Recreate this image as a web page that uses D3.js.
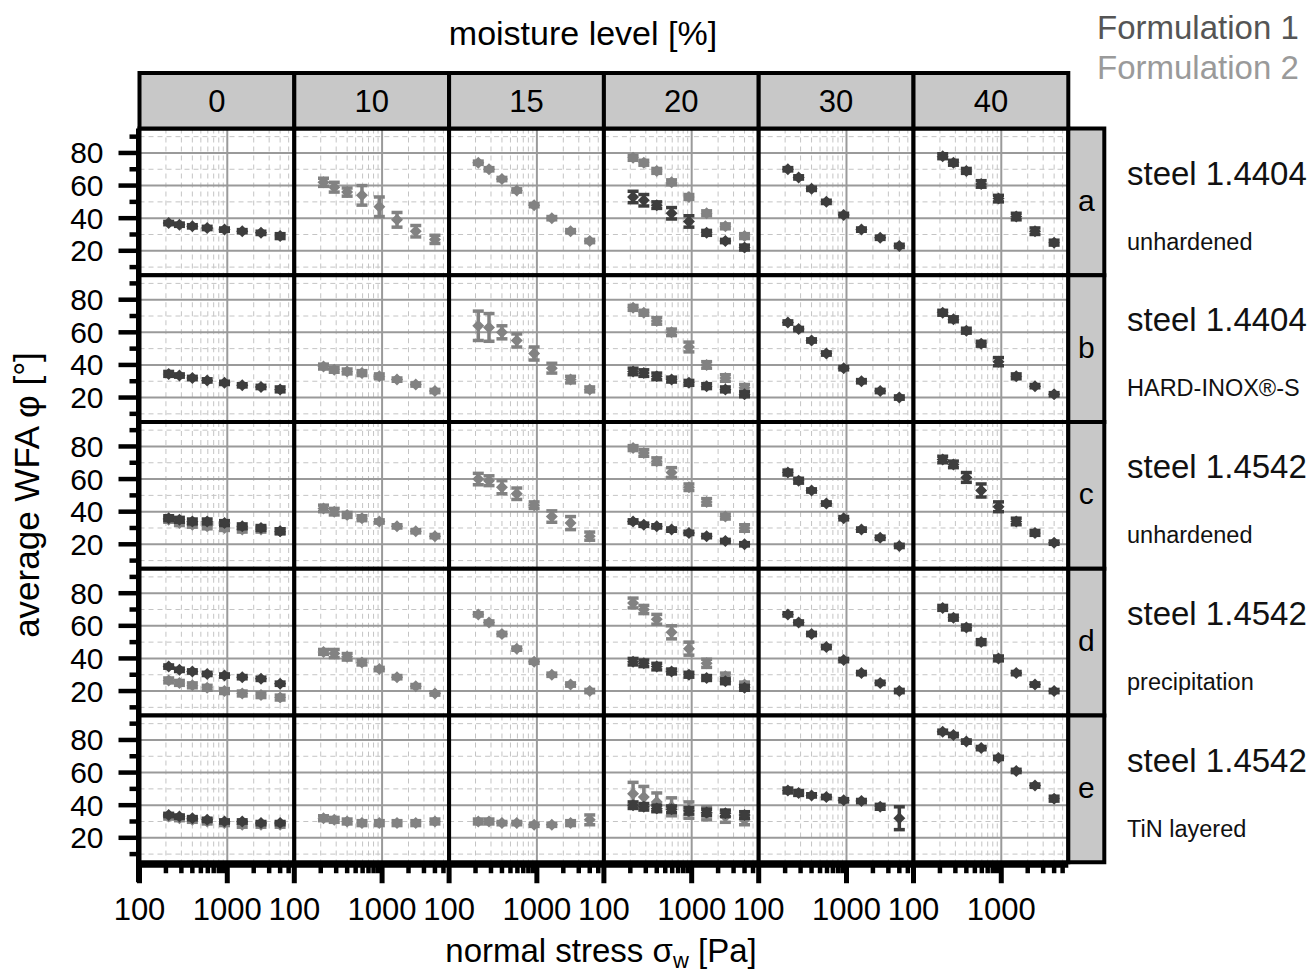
<!DOCTYPE html>
<html>
<head>
<meta charset="utf-8">
<script src="https://cdn.jsdelivr.net/npm/d3@7"></script>
<style>
  body { margin: 0; background: #fff; }
  text { font-family: "Liberation Sans", Arial, sans-serif; }
</style>
</head>
<body>
<svg id="chart" width="1315" height="977"></svg>
<script>
const moisture = ['0', '10', '15', '20', '30', '40'];
const surfaces = ['a', 'b', 'c', 'd', 'e'];
const steelNames = ['steel 1.4404', 'steel 1.4404', 'steel 1.4542', 'steel 1.4542', 'steel 1.4542'];
const treatments = ['unhardened', 'HARD-INOX®-S', 'unhardened', 'precipitation', 'TiN layered'];
const stress = [215, 285, 400, 590, 930, 1480, 2420, 4000];
const xTicks = [100, 1000];
const yTicks = [20, 40, 60, 80];
const series = ['Formulation 1', 'Formulation 2'];

// one entry per moisture level, null = not measured
const f1_a = [[37, 36, 35, 34, 33, 32, 31, 29], null, null, [53, 51, 48, 43, 38, 31, 26, 22], [70, 65, 58, 50, 42, 33, 28, 23], [78, 74, 69, 61, 52, 41, 32, 25]];
const e1_a = [[1, 1, 1, 1, 1, 1, 1, 1.5], null, null, [3.5, 3.5, 2, 3.5, 3.5, 1.5, 1, 1.5], [1, 1, 1, 1, 1, 1, 1, 1], [1.5, 1.5, 1.5, 2, 2, 2, 2, 1.5]];
const f2_a = [null, [62, 59, 56, 54, 47, 39, 32, 27], [74, 70, 64, 57, 48, 40, 32, 26], [77, 74, 69, 62, 53, 43, 35, 29], null, null];
const e2_a = [null, [2.5, 3, 2.5, 6, 6, 4.5, 3.5, 2.5], [1, 1, 1, 1, 1, 1, 1, 1], [1.5, 1.5, 1.5, 1.5, 1.5, 1.5, 1.5, 1.5], null, null];

const f1_b = [[34.5, 33.5, 32, 30.5, 29, 27.5, 26.5, 25], null, null, [36, 35, 33, 31, 29, 27, 25, 22], [66, 62, 55, 47, 38, 30, 24, 20], [72, 68, 61, 53, 42, 33, 27, 22]];
const e1_b = [[1.5, 1, 1, 1, 1, 1, 1, 1.5], null, null, [2, 2, 2, 1.5, 1.5, 1.5, 1.5, 1.5], [1, 1, 1, 1, 1, 1, 1, 1], [1.5, 1.5, 1.5, 1.5, 2.5, 1.5, 1, 1]];
const f2_b = [null, [39, 37, 36, 35, 33, 31, 28, 24], [64, 63, 60, 55, 47, 38, 31, 25], [75, 72, 67, 60, 51, 40, 32, 26], null, null];
const e2_b = [null, [1.5, 1.5, 1.5, 1.5, 1.5, 1, 1, 1], [9, 8.5, 4, 4, 4, 3, 2, 1.5], [1.5, 1.5, 2, 2, 3, 2, 2, 2], null, null];

const f1_c = [[36, 35, 34, 34, 33, 31, 30, 28], null, null, [34, 32, 31, 29, 27, 25, 22, 20], [64, 59, 53, 45, 36, 29, 24, 19], [72, 69, 61, 53, 43, 34, 27, 21]];
const e1_c = [[1.5, 1.5, 1.5, 1.5, 1.5, 1.5, 1.5, 1.5], null, null, [1, 1, 1, 1, 1, 1, 1, 1], [1.5, 1.5, 1, 1, 1, 1, 1, 1], [2, 2, 3, 4, 3, 2, 1.5, 1]];
const f2_c = [[35, 33, 32, 31, 30, 29, 29, 28], [42, 40, 38, 36, 34, 31, 28, 25], [60, 59, 55, 51, 44, 37, 33, 25], [79, 76, 71, 64, 55, 46, 37, 30], null, null];
const e2_c = [[1.5, 1.5, 1.5, 1.5, 1.5, 1.5, 1.5, 1.5], [2, 2, 1.5, 1.5, 1, 1, 1, 1], [3.5, 3, 4, 3.5, 2, 3.5, 4, 2.5], [1.5, 2, 2, 3, 2, 2, 1.5, 2], null, null];

const f1_d = [[35, 33, 32, 30.5, 29.5, 28.5, 27.5, 24.5], null, null, [38, 37, 35, 32, 30, 28, 26, 22], [67, 62, 55, 47, 39, 31, 25, 20], [71, 65, 59, 50, 40, 31, 24, 20]];
const e1_d = [[1, 1, 1, 1, 1, 1, 1, 1], null, null, [2, 2, 2, 1.5, 1.5, 1.5, 1.5, 1.5], [1, 1, 1, 1, 1, 1, 1, 1], [1.5, 1.5, 1.5, 1.5, 1.5, 1, 1, 1]];
const f2_d = [[26.5, 25, 23.5, 22, 20, 18.5, 17.5, 16], [44, 43, 41, 37.5, 33.5, 28.5, 23, 18.5], [67, 62, 55, 46, 38, 30, 24, 20], [74, 70, 64, 56, 46, 37, 29, 24], null, null];
const e2_d = [[1.5, 1.5, 1.5, 1.5, 1.5, 1.5, 1.5, 1.5], [1.5, 2.5, 2, 1.5, 1, 1, 1, 1], [1, 1, 1, 1, 1, 1, 1, 1], [3, 2.5, 3, 4, 4, 2.5, 2, 1.5], null, null];

const f1_e = [[34, 33, 32, 31, 30, 30, 29, 29], null, null, [40, 39, 38, 37.5, 36.5, 35.5, 35, 34], [49, 47.5, 46, 45, 43, 42.5, 39, 32], [85, 83, 79, 75, 69, 61, 52, 44]];
const e1_e = [[1, 1, 1, 1, 1, 1, 1, 1], null, null, [2, 2, 2, 2, 2, 2, 2, 2], [1.5, 1.5, 1, 1, 1, 1, 1.5, 7], [1, 1, 1, 1, 1, 1, 1, 1.5]];
const f2_e = [[33, 32, 31, 30, 29, 28, 28, 28], [32, 31, 30, 29, 29, 29, 29, 30], [30, 30, 29, 29, 28, 28, 29, 31], [47, 45, 42, 39, 37, 35, 33, 31], null, null];
const e2_e = [[1.5, 1.5, 1.5, 1.5, 1.5, 1.5, 1.5, 1.5], [1.5, 1.5, 1.5, 1.5, 1.5, 1.5, 1.5, 1.5], [1.5, 1.5, 1, 1, 1, 1, 1.5, 3], [7, 6.5, 5.5, 5.5, 5, 4, 3.5, 3], null, null];

const f1Rows = [f1_a, f1_b, f1_c, f1_d, f1_e];
const e1Rows = [e1_a, e1_b, e1_c, e1_d, e1_e];
const f2Rows = [f2_a, f2_b, f2_c, f2_d, f2_e];
const e2Rows = [e2_a, e2_b, e2_c, e2_d, e2_e];

const left0 = 139.5, top0 = 128.5, colW = 154.8, rowH = 146.75;
const headTop = 73, stripW = 36;
const colors = ['#3d3d3d', '#828282'];
const legendColors = ['#555', '#9a9a9a'];
const stripFill = '#c8c8c8';

const svg = d3.select('#chart');

const x = d3.scaleLog().domain([100, 5800]).range([0, colW]);
const y = d3.scaleLinear().domain([5, 95]).range([rowH, 0]);
const minorX = [200, 300, 400, 500, 600, 700, 800, 900, 2000, 3000, 4000, 5000];
const minorY = [10, 30, 50, 70, 90];

const marker = d3.symbol(d3.symbolSquare, 72);
const capW = 5.5;

surfaces.forEach((s, r) => {
	moisture.forEach((m, c) => {
		const g = svg.append('g')
			.attr('transform', `translate(${left0 + c * colW},${top0 + r * rowH})`);

		g.append('rect').attr('width', colW).attr('height', rowH).attr('fill', '#fff');

		// grid
		g.selectAll('.gym').data(minorY).join('line')
			.attr('x1', 0).attr('x2', colW)
			.attr('y1', (d) => y(d)).attr('y2', (d) => y(d))
			.attr('stroke', '#c4c4c4').attr('stroke-width', 1).attr('stroke-dasharray', '5,4');
		g.selectAll('.gxm').data(minorX).join('line')
			.attr('x1', (d) => x(d)).attr('x2', (d) => x(d))
			.attr('y1', 0).attr('y2', rowH)
			.attr('stroke', '#c4c4c4').attr('stroke-width', 1).attr('stroke-dasharray', '5,4');
		g.selectAll('.gy').data(yTicks).join('line')
			.attr('x1', 0).attr('x2', colW)
			.attr('y1', (d) => y(d)).attr('y2', (d) => y(d))
			.attr('stroke', '#9a9a9a').attr('stroke-width', 2);
		g.append('line')
			.attr('x1', x(1000)).attr('x2', x(1000)).attr('y1', 0).attr('y2', rowH)
			.attr('stroke', '#9a9a9a').attr('stroke-width', 2);

		// data: formulation 2 first, formulation 1 on top
		[[f2Rows[r][c], e2Rows[r][c], colors[1]], [f1Rows[r][c], e1Rows[r][c], colors[0]]].forEach(([vals, errs, col]) => {
			if (!vals) return;
			const pts = vals.map((v, i) => ({ x: stress[i], v, e: errs[i] }));
			const pg = g.selectAll(null).data(pts).join('g')
				.attr('transform', (d) => `translate(${x(d.x)},${y(d.v)})`);
			pg.append('line')
				.attr('y1', (d) => y(d.v + d.e) - y(d.v)).attr('y2', (d) => y(d.v - d.e) - y(d.v))
				.attr('stroke', col).attr('stroke-width', 3.5);
			pg.append('line')
				.attr('x1', -capW).attr('x2', capW)
				.attr('y1', (d) => y(d.v + d.e) - y(d.v)).attr('y2', (d) => y(d.v + d.e) - y(d.v))
				.attr('stroke', col).attr('stroke-width', 3.5);
			pg.append('line')
				.attr('x1', -capW).attr('x2', capW)
				.attr('y1', (d) => y(d.v - d.e) - y(d.v)).attr('y2', (d) => y(d.v - d.e) - y(d.v))
				.attr('stroke', col).attr('stroke-width', 3.5);
			pg.append('path').attr('d', marker).attr('transform', 'rotate(45)').attr('fill', col);
		});

		g.append('rect').attr('width', colW).attr('height', rowH)
			.attr('fill', 'none').attr('stroke', '#000').attr('stroke-width', 4);
	});

	// right strip
	const sy = top0 + r * rowH;
	svg.append('rect')
		.attr('x', left0 + 6 * colW).attr('y', sy).attr('width', stripW).attr('height', rowH)
		.attr('fill', stripFill).attr('stroke', '#000').attr('stroke-width', 4);
	svg.append('text')
		.attr('x', left0 + 6 * colW + stripW / 2).attr('y', sy + rowH / 2 + 9)
		.attr('text-anchor', 'middle').attr('font-size', 30).text(s);
	svg.append('text')
		.attr('x', 1127).attr('y', sy + 56)
		.attr('font-size', 33).attr('fill', '#111').text(steelNames[r]);
	svg.append('text')
		.attr('x', 1127).attr('y', sy + 121)
		.attr('font-size', 23.5).attr('fill', '#111').text(treatments[r]);

	// y axis ticks
	const ay = svg.append('g').attr('transform', `translate(${left0},${sy})`);
	ay.selectAll('.mt').data(minorY).join('line')
		.attr('x1', -10).attr('x2', 0).attr('y1', (d) => y(d)).attr('y2', (d) => y(d))
		.attr('stroke', '#000').attr('stroke-width', 4.5);
	ay.selectAll('.Mt').data(yTicks).join('line')
		.attr('x1', -21).attr('x2', 0).attr('y1', (d) => y(d)).attr('y2', (d) => y(d))
		.attr('stroke', '#000').attr('stroke-width', 4.5);
	ay.selectAll('.lb').data(yTicks).join('text')
		.attr('x', -36).attr('y', (d) => y(d) + 10.5)
		.attr('text-anchor', 'end').attr('font-size', 30).text((d) => d);
});

// left axis line
svg.append('line')
	.attr('x1', left0 - 1).attr('x2', left0 - 1)
	.attr('y1', top0).attr('y2', top0 + 5 * rowH + 20)
	.attr('stroke', '#000').attr('stroke-width', 5);

// header strips
moisture.forEach((m, c) => {
	svg.append('rect')
		.attr('x', left0 + c * colW).attr('y', headTop).attr('width', colW).attr('height', top0 - headTop)
		.attr('fill', stripFill).attr('stroke', '#000').attr('stroke-width', 4);
	svg.append('text')
		.attr('x', left0 + c * colW + colW / 2).attr('y', headTop + 39)
		.attr('text-anchor', 'middle').attr('font-size', 31).text(m);

	// bottom axis
	const bx = svg.append('g').attr('transform', `translate(${left0 + c * colW},${top0 + 5 * rowH})`);
	bx.append('line').attr('x1', 0).attr('x2', colW).attr('y1', 3).attr('y2', 3)
		.attr('stroke', '#000').attr('stroke-width', 5);
	bx.selectAll('.mt').data(minorX).join('line')
		.attr('x1', (d) => x(d)).attr('x2', (d) => x(d)).attr('y1', 0).attr('y2', 11)
		.attr('stroke', '#000').attr('stroke-width', 4.5);
	bx.selectAll('.Mt').data(xTicks).join('line')
		.attr('x1', (d) => x(d)).attr('x2', (d) => x(d)).attr('y1', 0).attr('y2', 21)
		.attr('stroke', '#000').attr('stroke-width', 5);
	bx.selectAll('.lb').data(xTicks).join('text')
		.attr('x', (d) => x(d)).attr('y', 58)
		.attr('text-anchor', 'middle').attr('font-size', 31).text((d) => d);
});

// titles
svg.append('text').attr('x', 583).attr('y', 45).attr('text-anchor', 'middle')
	.attr('font-size', 34).text('moisture level [%]');

const xl = svg.append('text').attr('x', 601).attr('y', 962).attr('text-anchor', 'middle')
	.attr('font-size', 33);
xl.append('tspan').text('normal stress σ');
xl.append('tspan').attr('font-size', 22).attr('dy', 6).text('w');
xl.append('tspan').attr('dy', -6).text(' [Pa]');

svg.append('text')
	.attr('transform', 'translate(39,495) rotate(-90)')
	.attr('text-anchor', 'middle').attr('font-size', 35).text('average WFA φ [°]');

// legend
series.forEach((s, i) => {
	svg.append('text').attr('x', 1097).attr('y', 39 + i * 40)
		.attr('font-size', 33).attr('fill', legendColors[i]).text(s);
});
</script>
</body>
</html>
